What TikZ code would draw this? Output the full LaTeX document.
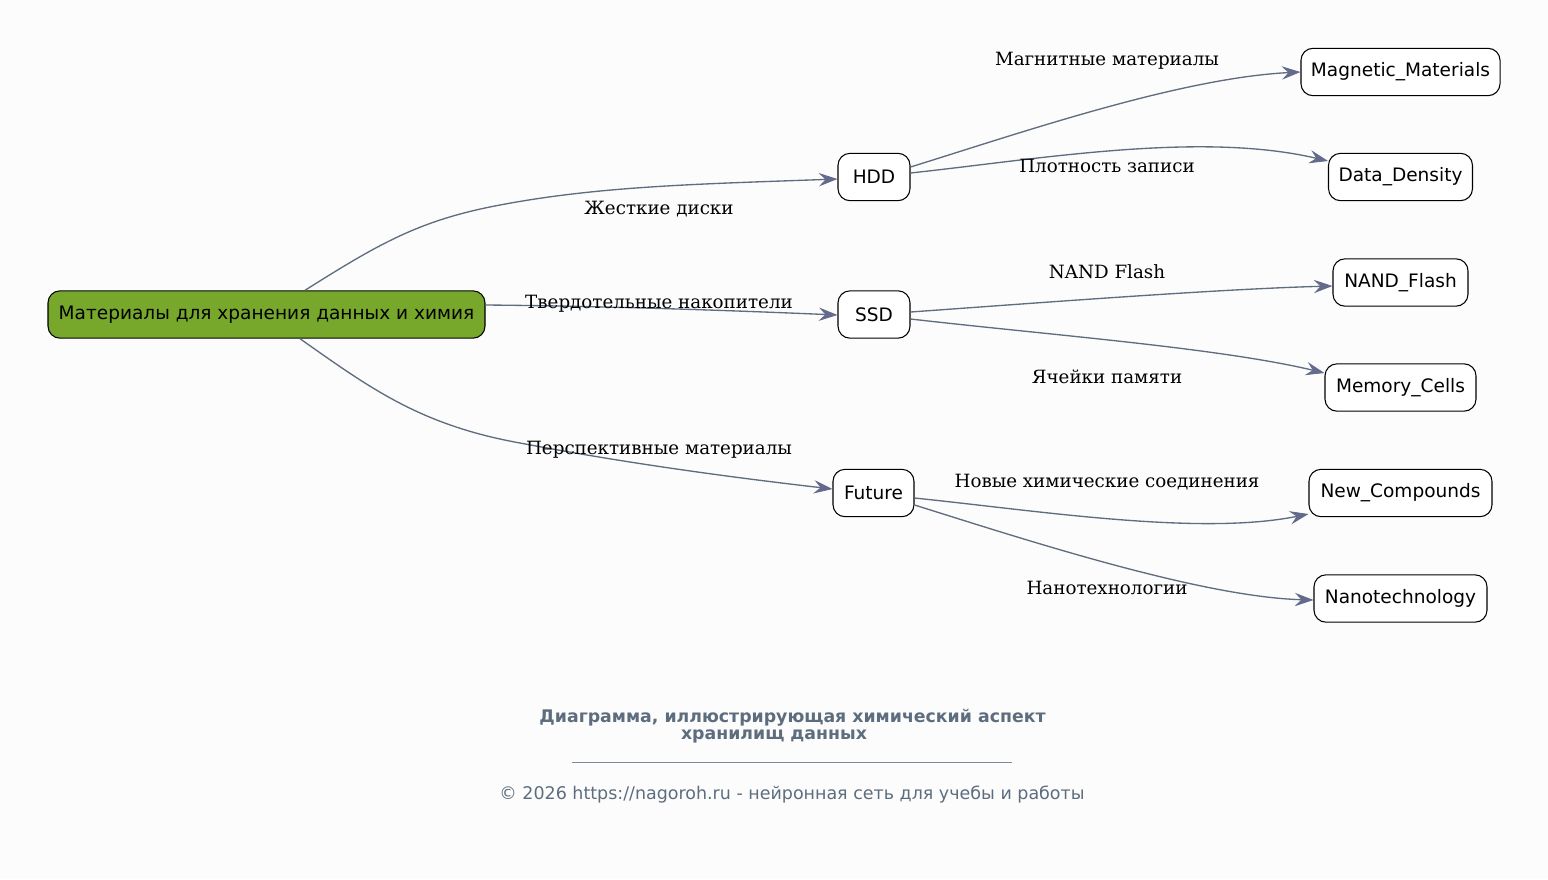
\documentclass[tikz,border=0pt]{standalone}
\usepackage{fontspec}
\setmainfont{DejaVu Sans}
\newfontfamily\lblfont{DejaVu Serif}
\usetikzlibrary{arrows.meta}
\definecolor{bgc}{HTML}{FCFCFC}
\definecolor{rootgreen}{HTML}{77A82B}
\definecolor{edgec}{HTML}{5F6D7E}
\definecolor{tipc}{HTML}{646A8C}
\definecolor{footc}{HTML}{5D6D7E}
\tikzset{
  box/.style={draw=black, line width=0.8pt, rounded corners=9pt, fill=white,
    minimum height=35.5pt, inner xsep=7.5pt, font=\fontsize{13.9}{16}\selectfont, text=black},
  rootbox/.style={box, fill=rootgreen},
  conn/.style={draw=edgec, line width=1pt,
    -{Stealth[length=14pt, width=10pt, inset=5pt, color=tipc, fill=tipc, line width=0.6pt]}},
  elabel/.style={font=\lblfont\fontsize{13.7}{16}\selectfont, text=black, inner sep=0pt},
  foottitle/.style={font=\bfseries\fontsize{13}{15}\selectfont, text=footc, inner sep=0pt},
}
\begin{document}
\begin{tikzpicture}[x=0.75pt, y=-0.75pt]
\fill[bgc] (0,0) rectangle (1548,879);
\useasboundingbox (0,0) rectangle (1548,879);

\node[rootbox, minimum width=327.75pt] (root) at (266.5,314.5) {Материалы для хранения данных и химия};
\node[box, minimum width=54pt] (hdd) at (874,177) {HDD};
\node[box, minimum width=54pt] (ssd) at (874,314.5) {SSD};
\node[box, minimum width=60.75pt] (fut) at (873.5,493) {Future};
\node[box, minimum width=149.25pt] (mag) at (1400.5,72) {Magnetic\_Materials};
\node[box, minimum width=107.25pt] (dd) at (1400.5,177) {Data\_Density};
\node[box, minimum width=101.25pt] (nand) at (1400.5,282.5) {NAND\_Flash};
\node[box, minimum width=113.25pt] (mem) at (1400.5,387.5) {Memory\_Cells};
\node[box, minimum width=137.25pt] (newc) at (1400.5,493) {New\_Compounds};
\node[box, minimum width=129.75pt] (nano) at (1400.5,598.5) {Nanotechnology};

% edges
\draw[conn] (root.north -| 305,0) .. controls (380,243) and (420,220) .. (500,205)
  .. controls (600,186) and (700,184) .. (hdd.west |- 0,179);
\draw[conn] (root.east |- 0,305) .. controls (600,306) and (720,310) .. (ssd.west |- 0,315);
\draw[conn] (root.south -| 300,0) .. controls (370,388) and (420,425) .. (520,443)
  .. controls (620,462) and (720,476) .. (fut.west |- 0,489);

\draw[conn] (hdd.east |- 0,167) .. controls (1020,133) and (1180,78) .. (mag.west |- 0,72);
\draw[conn] (hdd.east |- 0,173) .. controls (1040,159) and (1200,131) .. (dd.west |- 0,161);
\draw[conn] (ssd.east |- 0,312) .. controls (1050,302) and (1220,289) .. (nand.west |- 0,286);
\draw[conn] (ssd.east |- 0,319) .. controls (1050,335) and (1220,348) .. (mem.west |- 0,373);
\draw[conn] (fut.east |- 0,498) .. controls (1040,511) and (1200,536) .. (newc.west |- 0,514);
\draw[conn] (fut.east |- 0,505) .. controls (1020,538) and (1200,597) .. (nano.west |- 0,600);

% edge labels
\node[elabel] (l1) at (659,209) {Жесткие диски};
\node[elabel] (l2) at (659,304) {Твердотельные накопители};
\node[elabel] (l3) at (659,450) {Перспективные материалы};
\node[elabel] (l4) at (1107,61) {Магнитные материалы};
\node[elabel] (l5) at (1107,166) {Плотность записи};
\node[elabel] (l6) at (1107,272) {NAND Flash};
\node[elabel] (l7) at (1107,377) {Ячейки памяти};
\node[elabel] (l8) at (1107,482) {Новые химические соединения};
\node[elabel] (l9) at (1107,588) {Нанотехнологии};

% footer
\node[foottitle] (title1) at (792.5,718) {Диаграмма, иллюстрирующая химический аспект};
\node[foottitle] (title2) at (774,736) {хранилищ данных};
\draw[footc!80, line width=0.5pt] (572,762) coordinate (ls) -- (1012,762) coordinate (le);
\node[font=\fontsize{13.1}{15}\selectfont, text=footc] (copy) at (792,795)
  {© 2026 https://nagoroh.ru - нейронная сеть для учебы и работы};
\end{tikzpicture}
\end{document}
